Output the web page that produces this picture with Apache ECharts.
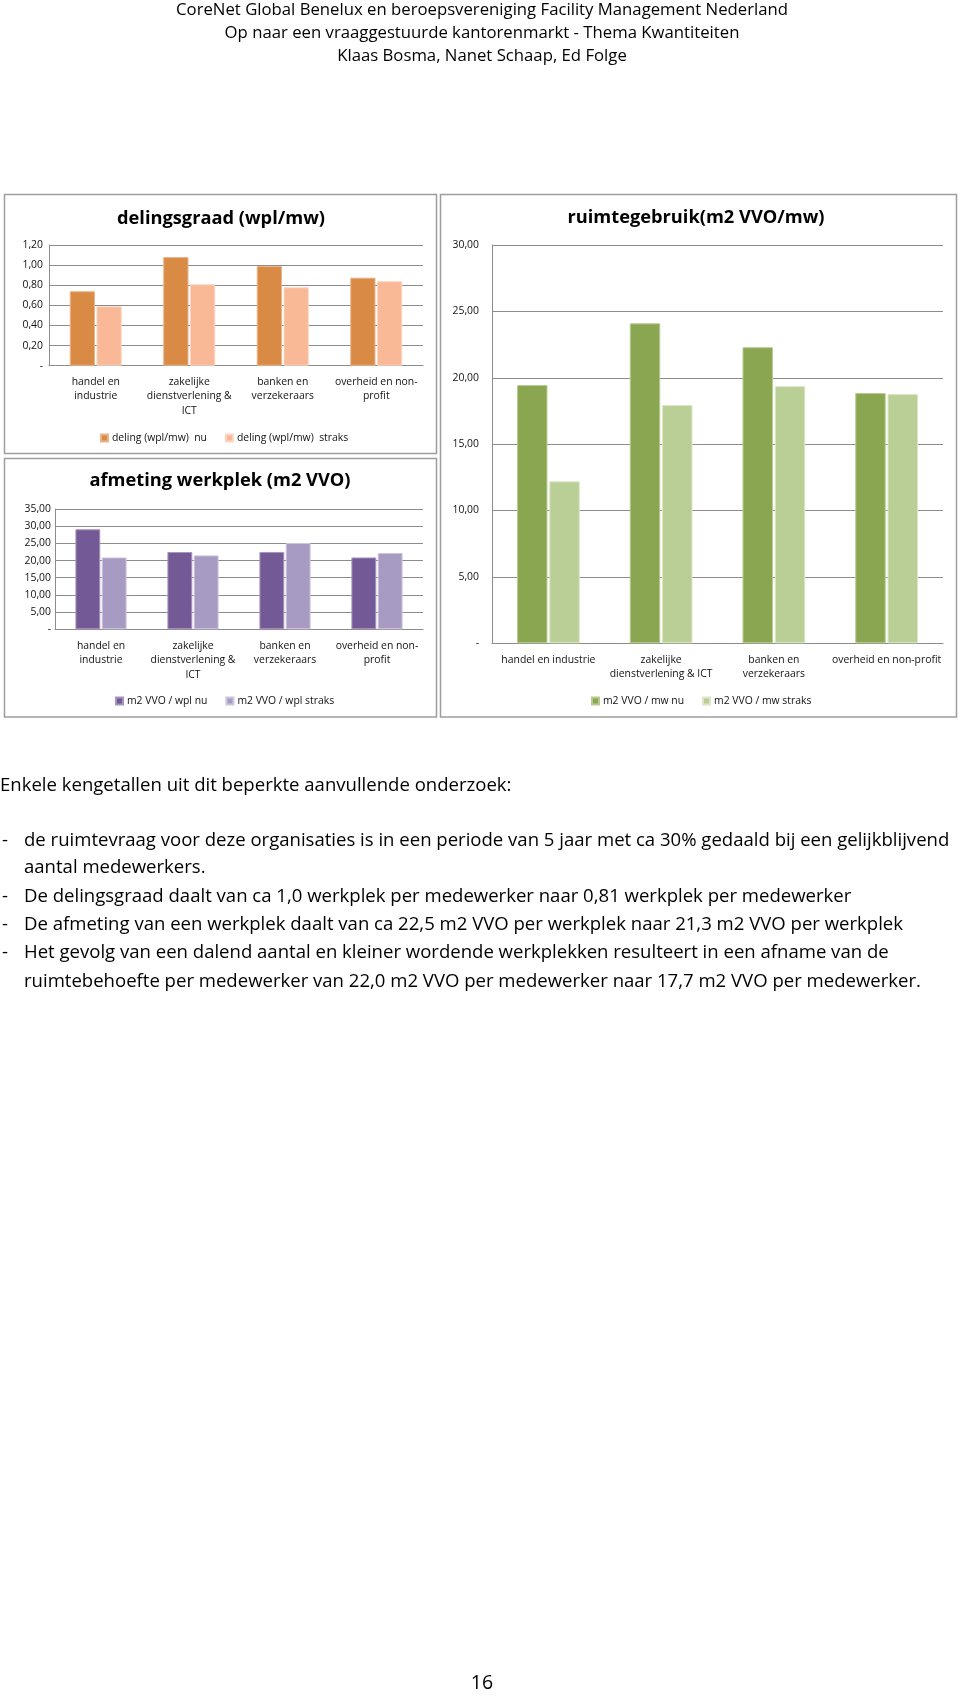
<!DOCTYPE html>
<html><head><meta charset="utf-8">
<script src="https://cdn.jsdelivr.net/npm/echarts@6/dist/echarts.min.js"></script>
<style>html,body{margin:0;padding:0;background:#fff}#c{width:960px;height:1695px}</style>
</head><body><div id="c"></div>
<script>
// ---- data ----
const categories = ['handel en industrie', 'zakelijke dienstverlening & ICT', 'banken en verzekeraars', 'overheid en non-profit'];
const narrowLabels = ['handel en\nindustrie', 'zakelijke\ndienstverlening &\nICT', 'banken en\nverzekeraars', 'overheid en non-\nprofit'];
const wideLabels = ['handel en industrie', 'zakelijke\ndienstverlening & ICT', 'banken en\nverzekeraars', 'overheid en non-profit'];

const delingNames = ['deling (wpl/mw)  nu', 'deling (wpl/mw)  straks'];
const delingNu = [0.74, 1.08, 0.99, 0.875];
const delingStraks = [0.59, 0.81, 0.78, 0.84];

const werkplekNames = ['m2 VVO / wpl nu', 'm2 VVO / wpl straks'];
const werkplekNu = [29.1, 22.5, 22.5, 20.9];
const werkplekStraks = [20.9, 21.5, 25.1, 22.2];

const ruimteNames = ['m2 VVO / mw nu', 'm2 VVO / mw straks'];
const ruimteNu = [19.45, 24.1, 22.3, 18.85];
const ruimteStraks = [12.2, 17.95, 19.37, 18.77];

const chartTitles = ['delingsgraad (wpl/mw)', 'afmeting werkplek (m2 VVO)', 'ruimtegebruik(m2 VVO/mw)'];

const headerLines = [
  'CoreNet Global Benelux en beroepsvereniging Facility Management Nederland',
  'Op naar een vraaggestuurde kantorenmarkt - Thema Kwantiteiten',
  'Klaas Bosma, Nanet Schaap, Ed Folge'
];
const introLine = 'Enkele kengetallen uit dit beperkte aanvullende onderzoek:';
const bodyLines = [
  {dash: true, text: 'de ruimtevraag voor deze organisaties is in een periode van 5 jaar met ca 30% gedaald bij een gelijkblijvend'},
  {dash: false, text: 'aantal medewerkers.'},
  {dash: true, text: 'De delingsgraad daalt van ca 1,0 werkplek per medewerker naar 0,81 werkplek per medewerker'},
  {dash: true, text: 'De afmeting van een werkplek daalt van ca 22,5 m2 VVO per werkplek naar 21,3 m2 VVO per werkplek'},
  {dash: true, text: 'Het gevolg van een dalend aantal en kleiner wordende werkplekken resulteert in een afname van de'},
  {dash: false, text: 'ruimtebehoefte per medewerker van 22,0 m2 VVO per medewerker naar 17,7 m2 VVO per medewerker.'}
];
const pageNumber = '16';

// ---- styling helpers ----
const FONT = '"Open Sans", "Noto Sans", sans-serif';
const mctx = document.createElement('canvas').getContext('2d');
function fit(text, weight, target) {
  mctx.font = weight + ' 100px ' + FONT;
  return 100 * target / mctx.measureText(text).width;
}
const headerSize = fit(headerLines[0], 'normal', 612);
const bodySize = fit(bodyLines[0].text, 'normal', 926);
const titleSize = fit(chartTitles[0], 'bold', 208);
const labelSize = fit('dienstverlening &', 'normal', 85);

const GRID = '#8c8c8c';
const fmt = v => v === 0 ? '-' : v.toFixed(2).replace('.', ',');

function xAxis(gi, labels) {
  return {
    type: 'category', gridIndex: gi, data: labels,
    axisTick: {show: false},
    axisLine: {lineStyle: {color: GRID, width: 1}},
    axisLabel: {interval: 0, color: '#111', fontFamily: FONT, fontSize: labelSize, lineHeight: 14.5, margin: 9}
  };
}
function yAxis(gi, max, interval, margin) {
  return {
    type: 'value', gridIndex: gi, min: 0, max: max, interval: interval,
    axisLine: {show: true, lineStyle: {color: GRID, width: 1}},
    axisTick: {show: false},
    splitLine: {lineStyle: {color: GRID, width: 1}},
    axisLabel: {formatter: fmt, color: '#111', fontFamily: FONT, fontSize: labelSize, margin: margin}
  };
}
function bar(name, gi, data, color, border) {
  return {
    type: 'bar', name: name, xAxisIndex: gi, yAxisIndex: gi, data: data,
    barWidth: '27%', barGap: '6%',
    itemStyle: {color: color, borderColor: border, borderWidth: 1},
    emphasis: {disabled: true}
  };
}
function legend(names, left, top) {
  return {
    data: names, left: left, top: top, padding: 0, orient: 'horizontal',
    icon: 'rect', itemWidth: 7, itemHeight: 7, itemGap: 18,
    textStyle: {fontFamily: FONT, fontSize: labelSize, color: '#111', padding: [0, 0, 0, -1]},
    selectedMode: false
  };
}

const graphics = [
  {type: 'rect', z: -10, shape: {x: 4.5, y: 194.5, width: 432, height: 259}, style: {fill: '#fff', stroke: '#9d9d9d', lineWidth: 1.5}},
  {type: 'rect', z: -10, shape: {x: 4.5, y: 458.5, width: 432, height: 258.5}, style: {fill: '#fff', stroke: '#9d9d9d', lineWidth: 1.5}},
  {type: 'rect', z: -10, shape: {x: 440.5, y: 194.5, width: 516, height: 522.5}, style: {fill: '#fff', stroke: '#9d9d9d', lineWidth: 1.5}}
];
const headerY = [10, 33, 56];
headerLines.forEach((t, i) => graphics.push({
  type: 'text', x: 482, y: headerY[i],
  style: {text: t, fontFamily: FONT, fontSize: headerSize, fill: '#000', align: 'center', verticalAlign: 'middle'}
}));
graphics.push({type: 'text', x: 0, y: 786, style: {text: introLine, fontFamily: FONT, fontSize: bodySize, fill: '#000', verticalAlign: 'middle'}});
const bodyY = [841, 868, 897, 925, 953, 982];
bodyLines.forEach((l, i) => {
  if (l.dash) graphics.push({type: 'text', x: 2, y: bodyY[i], style: {text: '-', fontFamily: FONT, fontSize: bodySize, fill: '#000', verticalAlign: 'middle'}});
  graphics.push({type: 'text', x: 24, y: bodyY[i], style: {text: l.text, fontFamily: FONT, fontSize: bodySize, fill: '#000', verticalAlign: 'middle'}});
});
graphics.push({type: 'text', x: 482, y: 1683, style: {text: pageNumber, fontFamily: FONT, fontSize: bodySize * 1.05, fill: '#000', align: 'center', verticalAlign: 'middle'}});

const titleStyle = {fontFamily: FONT, fontSize: titleSize, fontWeight: 'bold', color: '#000'};

const option = {
  animation: false,
  backgroundColor: '#fff',
  graphic: graphics,
  title: [
    {text: chartTitles[0], left: 221, top: 210, textAlign: 'center', padding: 0, textStyle: titleStyle},
    {text: chartTitles[1], left: 220, top: 472, textAlign: 'center', padding: 0, textStyle: titleStyle},
    {text: chartTitles[2], left: 696, top: 209, textAlign: 'center', padding: 0, textStyle: titleStyle}
  ],
  grid: [
    {left: 49, top: 245, width: 374, height: 120.7, containLabel: false},
    {left: 55, top: 509, width: 368, height: 120.3, containLabel: false},
    {left: 492, top: 245, width: 451, height: 398.3, containLabel: false}
  ],
  xAxis: [xAxis(0, narrowLabels), xAxis(1, narrowLabels), xAxis(2, wideLabels)],
  yAxis: [yAxis(0, 1.2, 0.2, 6), yAxis(1, 35, 5, 4), yAxis(2, 30, 5, 13)],
  legend: [
    legend(delingNames, 100, 433),
    legend(werkplekNames, 115, 696),
    legend(ruimteNames, 591, 696)
  ],
  series: [
    bar(delingNames[0], 0, delingNu, '#d98a45', '#e9b48a'),
    bar(delingNames[1], 0, delingStraks, '#f9b896', '#fcd6c2'),
    bar(werkplekNames[0], 1, werkplekNu, '#735a96', '#a595bd'),
    bar(werkplekNames[1], 1, werkplekStraks, '#a89bc3', '#cdc4dd'),
    bar(ruimteNames[0], 2, ruimteNu, '#8aa650', '#b7cb91'),
    bar(ruimteNames[1], 2, ruimteStraks, '#bacf96', '#dbe7c6')
  ]
};
const chart = echarts.init(document.getElementById('c'), null, {renderer: 'canvas'});
chart.setOption(option);
</script>
</body></html>
